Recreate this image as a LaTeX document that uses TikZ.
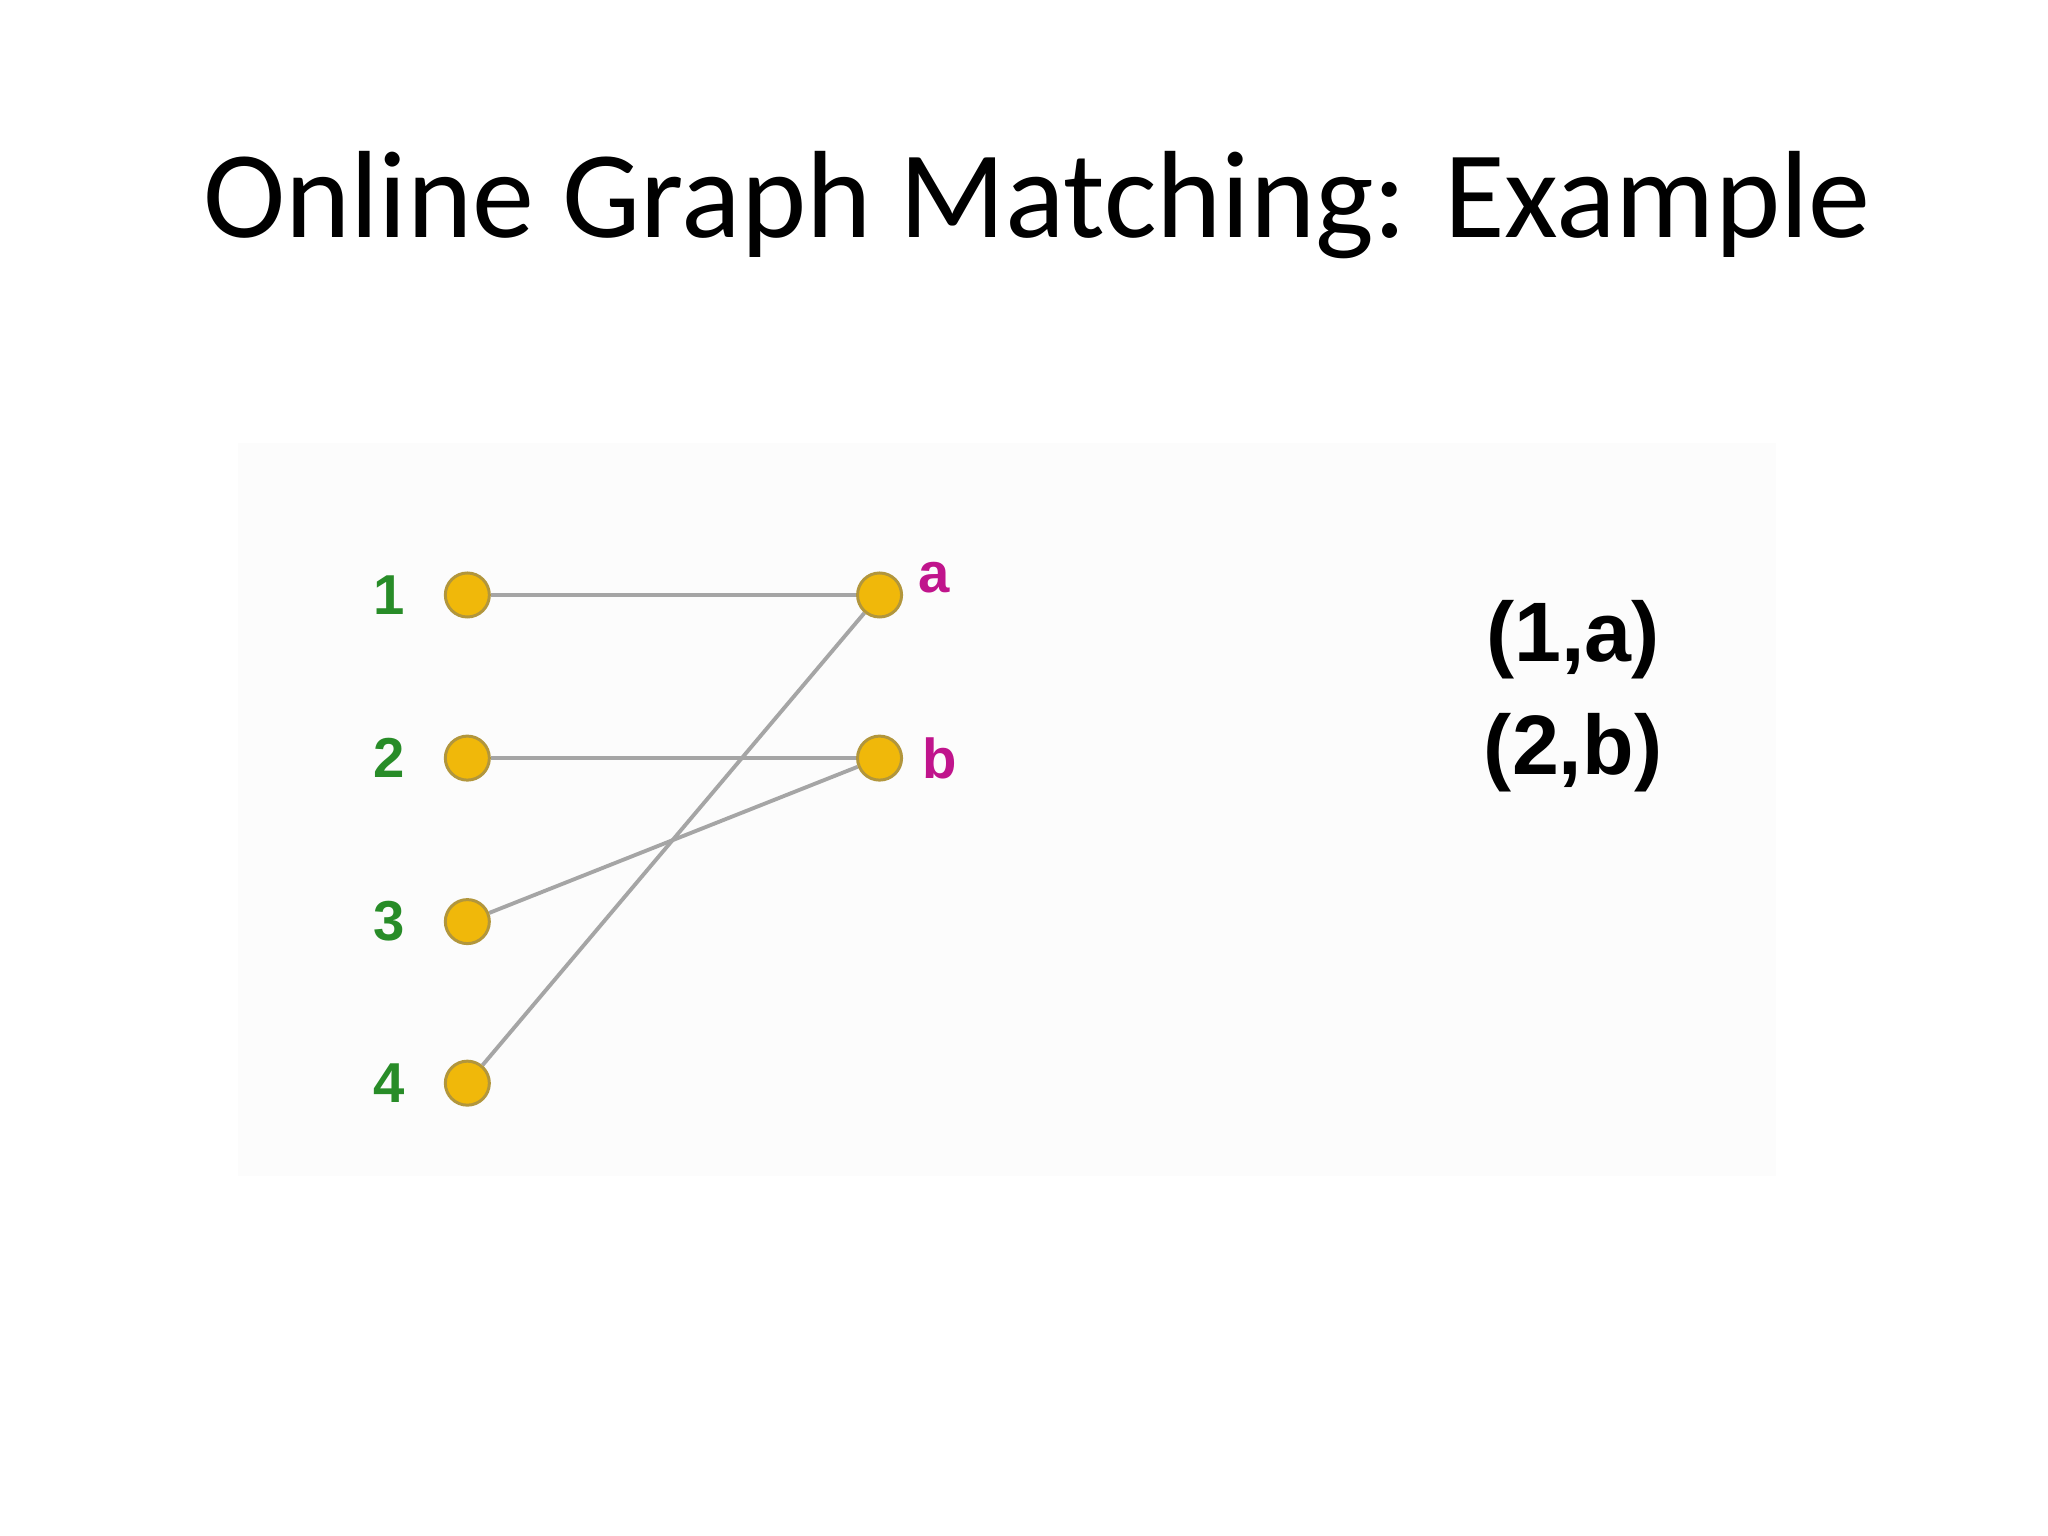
\documentclass[tikz,border=0pt]{standalone}
\usepackage{fontspec}
\setmainfont{Carlito}
\newfontfamily\lblfont{Liberation Sans}
\usetikzlibrary{matrix,positioning,backgrounds}
\definecolor{dotfill}{RGB}{240,184,10}
\definecolor{dotline}{RGB}{178,150,60}
\definecolor{numgreen}{RGB}{40,140,40}
\definecolor{lettermag}{RGB}{192,20,140}
\definecolor{edgegray}{RGB}{165,165,165}

\begin{document}
\begin{tikzpicture}[x=0.01cm,y=-0.01cm,
    dot/.style={circle,draw=dotline,fill=dotfill,line width=0.85pt,minimum size=0.44cm,inner sep=0pt},
    numlbl/.style={text=numgreen,font=\lblfont\bfseries\fontsize{16}{18}\selectfont,inner sep=0pt,label distance=0.28cm},
    letlbl/.style={text=lettermag,font=\lblfont\bfseries\fontsize{16}{18}\selectfont,inner sep=0pt,label distance=0.08cm},
    link/.style={draw=edgegray,line width=1.1pt},
    pairtxt/.style={font=\lblfont\bfseries\fontsize{24}{32}\selectfont,align=center,inner sep=0pt}]
\useasboundingbox (0,0) rectangle (2048,1536);

\node[font=\fontsize{35.3}{42}\selectfont] (title) at (1037,205) {Online Graph Matching: Example};

\matrix(m)[matrix of nodes,nodes={dot},column sep=3.65cm,row sep=1.113cm] at (665,832){
    |[label={[numlbl]left:1}]| {} & |[label={[letlbl,yshift=0.17cm]right:a}]| {} \\
    |[label={[numlbl]left:2}]| {} & |[label={[letlbl]right:b}]| {} \\
    |[label={[numlbl]left:3}]| {} & \\
    |[label={[numlbl]left:4}]| {} & \\
};

\node[pairtxt] (pairs) at (1573,696) {(1,a)\\(2,b)};

\begin{scope}[on background layer]
\fill[black!1] (238,443) rectangle (1776,1176);
\draw[link]
(m-1-1)edge(m-1-2)
(m-2-1)edge(m-2-2)
(m-3-1)edge(m-2-2)
(m-4-1)edge(m-1-2)
;
\end{scope}

\end{tikzpicture}
\end{document}
